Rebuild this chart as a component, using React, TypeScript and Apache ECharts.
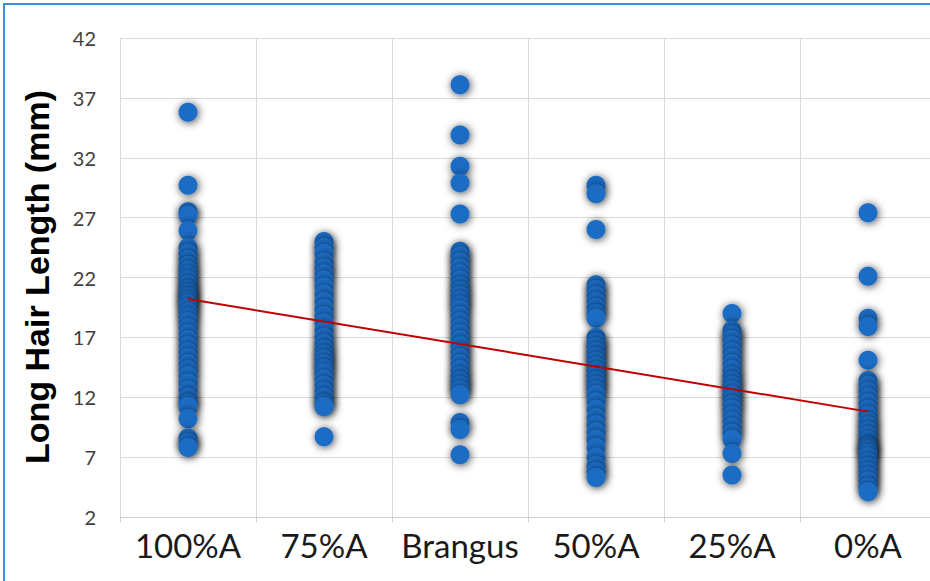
import React, { useEffect, useRef } from "react";
import * as echarts from "echarts";

const categories = ["100%A", "75%A", "Brangus", "50%A", "25%A", "0%A"];

const hair100A = [35.8, 29.7, 27.5, 27.2, 25.9, 24.5, 24.0, 23.5, 23.0, 22.6, 22.2, 21.8, 21.4, 21.0, 20.7, 20.4, 20.1, 19.8, 19.5, 19.1, 18.7, 18.3, 17.8, 17.3, 16.8, 16.3, 15.8, 15.3, 14.8, 14.3, 13.8, 13.2, 12.6, 12.0, 11.5, 11.2, 10.2, 8.6, 8.2, 7.8];
const hair75A = [25.0, 24.5, 24.0, 23.3, 22.8, 22.3, 21.8, 21.2, 20.6, 20.0, 19.4, 18.8, 18.2, 17.6, 17.0, 16.5, 16.0, 15.6, 15.2, 14.8, 14.4, 14.0, 13.5, 13.0, 12.5, 12.0, 11.5, 11.2, 8.7];
const hairBrangus = [38.1, 33.9, 31.3, 29.9, 27.3, 24.2, 23.8, 23.3, 22.8, 22.3, 21.8, 21.3, 20.9, 20.5, 20.1, 19.7, 19.3, 18.8, 18.3, 17.8, 17.3, 16.8, 16.3, 15.8, 15.3, 14.8, 14.3, 13.8, 13.4, 13.0, 12.6, 12.2, 9.9, 9.3, 7.2];
const hair50A = [29.7, 29.0, 26.0, 21.4, 21.0, 20.5, 20.0, 19.5, 19.0, 18.6, 17.0, 16.6, 16.2, 15.8, 15.4, 15.0, 14.6, 14.2, 13.8, 13.4, 13.0, 12.6, 12.2, 11.6, 11.0, 10.3, 9.7, 9.1, 8.5, 7.8, 7.0, 6.3, 5.8, 5.3];
const hair25A = [19.0, 17.6, 17.2, 16.8, 16.3, 15.8, 15.3, 14.8, 14.3, 13.8, 13.4, 13.0, 12.6, 12.2, 11.8, 11.4, 11.0, 10.5, 10.0, 9.5, 9.0, 8.5, 7.3, 5.5];
const hair0A = [27.4, 22.1, 18.6, 17.9, 15.1, 13.4, 13.0, 12.5, 12.0, 11.5, 11.0, 10.5, 10.0, 9.6, 9.2, 8.8, 8.4, 8.0, 7.8, 7.6, 7.3, 7.0, 6.6, 6.2, 5.8, 5.4, 5.0, 4.5, 4.1];

const groups = [hair100A, hair75A, hairBrangus, hair50A, hair25A, hair0A];

// trend line end values (at first and last category)
const trendStart = 20.2;
const trendEnd = 10.8;

const yMin = 2;
const yMax = 42;
const yStep = 5;

const yTitle = "Long Hair Length (mm)";

export default function App() {
  const ref = useRef<HTMLDivElement>(null);

  useEffect(() => {
    if (!ref.current) return;
    const chart = echarts.init(ref.current, null, { renderer: "svg" });
    const points: [number, number][] = [];
    groups.forEach((g, i) => g.forEach((v) => points.push([i, v])));

    chart.setOption({
      animation: false,
      backgroundColor: "#ffffff",
      grid: { left: 120, top: 38, width: 816, height: 479, containLabel: false },
      xAxis: {
        type: "category",
        data: categories,
        boundaryGap: true,
        axisLine: { show: true, lineStyle: { color: "#cfcfcf", width: 1 } },
        axisTick: { show: true, interval: 0, length: 5, lineStyle: { color: "#cfcfcf" } },
        splitLine: { show: true, interval: 0, lineStyle: { color: "#dadada", width: 1 } },
        axisLabel: {
          interval: 0,
          fontFamily: "Lato",
          fontSize: 33,
          color: "#1a1a1a",
          margin: 11,
        },
      },
      yAxis: {
        type: "value",
        min: yMin,
        max: yMax,
        interval: yStep,
        axisLine: { show: false },
        axisTick: { show: false },
        splitLine: { show: true, lineStyle: { color: "#dadada", width: 1 } },
        axisLabel: {
          fontFamily: "Lato",
          fontSize: 20,
          color: "#404040",
          margin: 24,
        },
      },
      series: [
        {
          type: "scatter",
          data: points,
          symbol: "circle",
          symbolSize: 19,
          silent: true,
          itemStyle: {
            color: "#1c6cc4",
            opacity: 1,
            shadowBlur: 8,
            shadowColor: "rgba(0,0,0,0.75)",
            shadowOffsetX: 1,
            shadowOffsetY: 1,
          },
          z: 2,
        },
        {
          type: "line",
          data: [
            [0, trendStart],
            [categories.length - 1, trendEnd],
          ],
          symbol: "none",
          silent: true,
          lineStyle: { color: "#c00000", width: 2 },
          z: 3,
        },
      ],
      graphic: [
        {
          type: "rect",
          shape: { x: 4, y: 4, width: 960, height: 620 },
          style: { fill: "none", stroke: "#3d8fdc", lineWidth: 2 },
          silent: true,
        },
        {
          type: "text",
          x: 37,
          y: 277,
          rotation: Math.PI / 2,
          style: {
            text: yTitle,
            fontFamily: "Liberation Sans",
            fontWeight: "bold",
            fontSize: 34,
            fill: "#000000",
            textAlign: "center",
            textVerticalAlign: "middle",
          },
          silent: true,
        },
      ],
    });
    return () => chart.dispose();
  }, []);

  return (
    <div
      style={{
        position: "fixed",
        left: 0,
        top: 0,
        width: 930,
        height: 581,
        overflow: "hidden",
        background: "#fff",
      }}
    >
      <div ref={ref} style={{ width: 950, height: 600 }} />
    </div>
  );
}
